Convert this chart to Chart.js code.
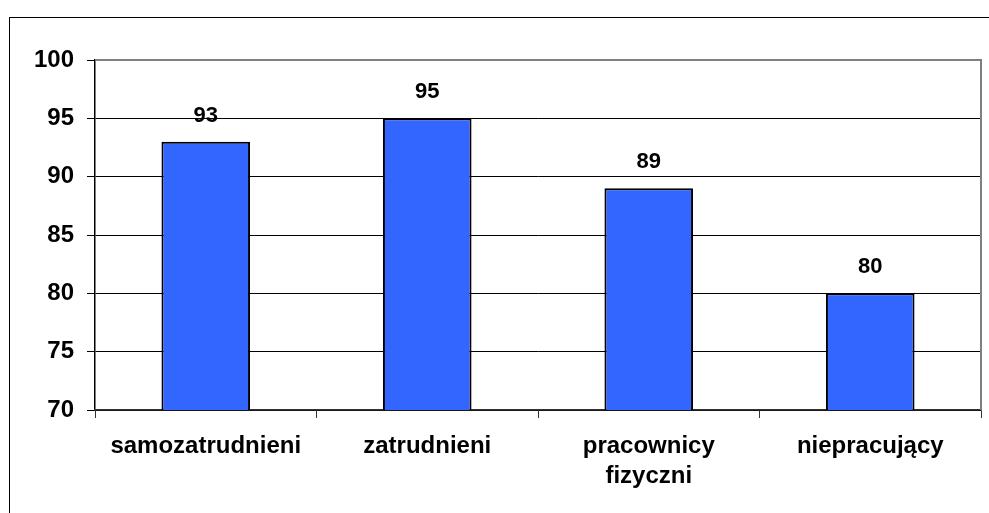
<!DOCTYPE html>
<html>
<head>
<meta charset="utf-8">
<script src="https://cdn.jsdelivr.net/npm/chart.js@4"></script>
<style>
  html, body { margin: 0; padding: 0; background: #fff; overflow: hidden; }
  #wrap { position: relative; width: 989px; height: 513px; }
  #frame { position: absolute; left: 9px; top: 17px; width: 1100px; height: 700px; border: 1px solid #000; box-sizing: border-box; }
  canvas { position: absolute; left: 0; top: 0; }
</style>
</head>
<body>
<div id="wrap">
  <div id="frame"></div>
  <canvas id="c" width="989" height="513"></canvas>
</div>
<script>
const categories = ['samozatrudnieni', 'zatrudnieni', ['pracownicy', 'fizyczni'], 'niepracujący'];
const values = [93, 95, 89, 80];
const yMin = 70, yMax = 100, yStep = 5;

const FONT = 'Liberation Sans, Arial, sans-serif';

const valueLabels = {
  id: 'valueLabels',
  afterDatasetsDraw(chart) {
    const ctx = chart.ctx;
    const meta = chart.getDatasetMeta(0);
    ctx.save();
    ctx.font = 'bold 22px ' + FONT;
    ctx.fillStyle = '#000';
    ctx.textAlign = 'center';
    ctx.textBaseline = 'alphabetic';
    meta.data.forEach((bar, i) => {
      ctx.fillText(String(values[i]), bar.x, bar.y - 20);
    });
    ctx.restore();
  }
};

const plotBorder = {
  id: 'plotBorder',
  beforeDatasetsDraw(chart) {
    const a = chart.chartArea;
    const ctx = chart.ctx;
    ctx.save();
    ctx.strokeStyle = '#808080';
    ctx.lineWidth = 2;
    ctx.beginPath();
    ctx.moveTo(a.left, a.top);
    ctx.lineTo(a.right, a.top);
    ctx.lineTo(a.right, a.bottom);
    ctx.stroke();
    ctx.restore();
  }
};

new Chart(document.getElementById('c'), {
  type: 'bar',
  data: {
    labels: categories,
    datasets: [{
      data: values,
      backgroundColor: '#3366FF',
      borderColor: '#000',
      borderWidth: 2,
      borderSkipped: false,
      barPercentage: 0.4,
      categoryPercentage: 1.0
    }]
  },
  options: {
    responsive: false,
    animation: false,
    layout: { padding: { left: 0, top: 60, right: 8, bottom: 0 } },
    plugins: { legend: { display: false }, tooltip: { enabled: false } },
    scales: {
      y: {
        min: yMin, max: yMax,
        afterFit(s) { s.width = 95; },
        ticks: {
          stepSize: yStep,
          padding: 13,
          color: '#000',
          font: { family: FONT, size: 24, weight: 'bold' }
        },
        grid: {
          color: ctx => (ctx.tick && ctx.tick.value === yMax) ? 'rgba(0,0,0,0)' : '#000',
          lineWidth: 1,
          tickLength: 8,
          tickColor: '#000'
        },
        border: { color: '#000', width: 1.5 }
      },
      x: {
        afterFit(s) { s.height = 103; },
        ticks: {
          padding: 13,
          color: '#000',
          maxRotation: 0,
          autoSkip: false,
          font: { family: FONT, size: 24, weight: 'bold', lineHeight: 1.25 }
        },
        grid: {
          drawOnChartArea: false,
          offset: true,
          tickLength: 8,
          color: '#333',
          tickColor: '#333'
        },
        border: { color: '#333', width: 1.5 }
      }
    }
  },
  plugins: [plotBorder, valueLabels]
});
</script>
</body>
</html>
